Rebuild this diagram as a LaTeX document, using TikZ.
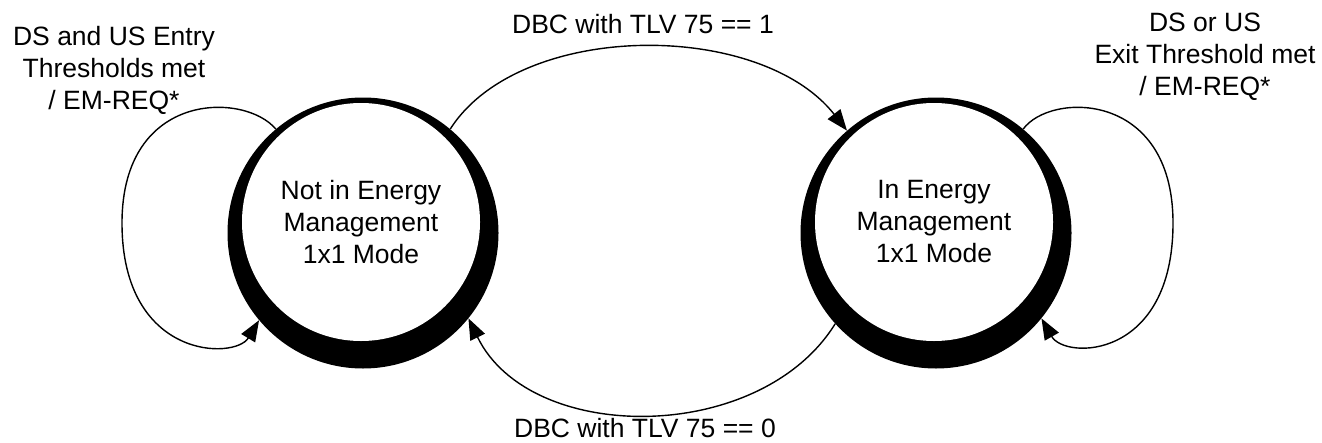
\documentclass[tikz,border=0pt]{standalone}
\usepackage{fontspec}
\setmainfont{Liberation Sans}
\usetikzlibrary{arrows.meta}
\begin{document}
\begin{tikzpicture}[x=1pt,y=-1pt,
  shadowdisk/.style={circle,fill=black,inner sep=0pt,minimum size=271pt},
  statedisk/.style={circle,fill=white,inner sep=0pt,minimum size=238pt,align=center,font=\fontsize{26.5}{32}\selectfont},
  lbl/.style={align=center,font=\fontsize{26.5}{32}\selectfont,inner sep=0pt},
  trans/.style={line width=1.4pt,-{Triangle[length=21pt,width=16pt]}}]
\useasboundingbox (0,0) rectangle (1322,442);
% states
\node[shadowdisk] (Ls) at (363,233) {};
\node[statedisk] (L) at (361,222) {Not in Energy\\Management\\1x1 Mode};
\node[shadowdisk] (Rs) at (936,233) {};
\node[statedisk] (R) at (934,222) {In Energy\\Management\\1x1 Mode};
% transitions
\draw[trans] (Ls.50) .. controls (520,20) and (760,20) .. (Rs.131);
\draw[trans] (Rs.222) .. controls (760,445) and (530,445) .. (Ls.321);
\draw[trans] (Ls.130) .. controls (245,92) and (122,90) .. (122,223)
                      .. controls (122,360) and (235,360) .. (Ls.220);
\draw[trans] (Rs.50) .. controls (1050,92) and (1173,90) .. (1173,223)
                     .. controls (1173,360) and (1065,360) .. (Rs.321);
% labels
\node[lbl] (tlabel) at (643,24) {DBC with TLV 75 == 1};
\node[lbl] (blabel) at (645,428) {DBC with TLV 75 == 0};
\node[lbl] (llabel) at (114,70) {DS and US Entry\\Thresholds met\\/ EM-REQ*};
\node[lbl] (rlabel) at (1205,57) {DS or US\\Exit Threshold met\\/ EM-REQ*};
\end{tikzpicture}
\end{document}
